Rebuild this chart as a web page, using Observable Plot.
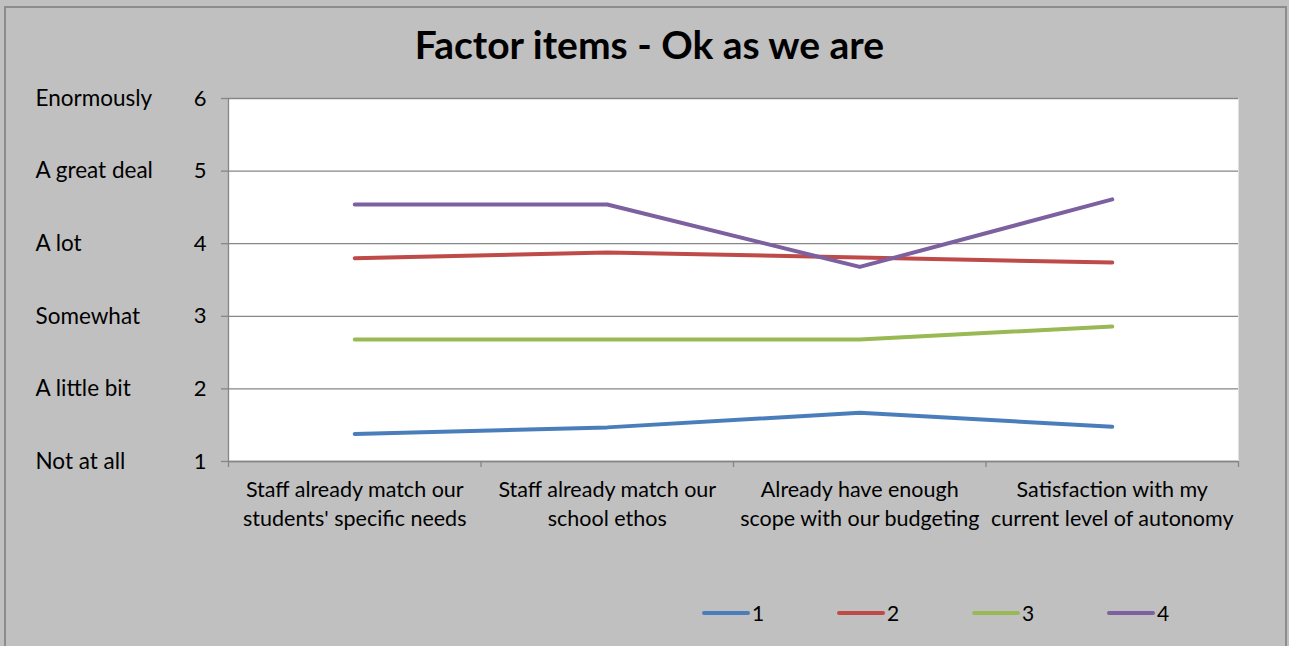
<!DOCTYPE html>
<html>
<head>
<meta charset="utf-8">
<script src="https://cdn.jsdelivr.net/npm/d3@7"></script>
<script src="https://cdn.jsdelivr.net/npm/@observablehq/plot@0.6"></script>
<style>
  html, body { margin: 0; padding: 0; background: #c0c0c0; }
  #wrap { position: relative; width: 1289px; height: 646px; background: #c0c0c0; overflow: hidden; font-family: Lato, "Open Sans", sans-serif; }
  #border { position: absolute; left: 4px; top: 6px; width: 1283px; height: 660px; border: 2px solid #8c8c8c; box-sizing: border-box; }
  #title { position: absolute; left: 0; width: 1299px; top: 21px; text-align: center; font-size: 39px; font-weight: bold; color: #000; }
  #chart { position: absolute; left: 0; top: 0; }
  #legend { position: absolute; top: 600px; left: 0; height: 26px; }
  .li { position: absolute; top: 0; display: flex; align-items: center; font-size: 21px; color: #000; }
  .sw { width: 48px; height: 4px; border-radius: 2px; margin-right: 2px; }
</style>
</head>
<body>
<div id="wrap">
  <div id="border"></div>
  <div id="chart"></div>
  <div id="title">Factor items - Ok as we are</div>
  <div id="legend"></div>
</div>
<script>
const categories = [
  "Staff already match our\nstudents' specific needs",
  "Staff already match our\nschool ethos",
  "Already have enough\nscope with our budgeting",
  "Satisfaction with my\ncurrent level of autonomy"
];
const seriesNames = ["1", "2", "3", "4"];
const series1 = [1.38, 1.47, 1.67, 1.48];
const series2 = [3.80, 3.88, 3.81, 3.74];
const series3 = [2.68, 2.68, 2.68, 2.86];
const series4 = [4.54, 4.54, 3.68, 4.61];
const colors = ["#4a7ebb", "#be4b48", "#98b954", "#7d60a0"];
const yTicks = [1, 2, 3, 4, 5, 6];
const yLabels = ["Not at all", "A little bit", "Somewhat", "A lot", "A great deal", "Enormously"];

const allSeries = [series1, series2, series3, series4];
const data = [];
allSeries.forEach((vals, s) => {
  vals.forEach((v, i) => data.push({series: seriesNames[s], pos: i + 0.5, value: v}));
});
const boundaries = d3.range(categories.length + 1);
const centers = categories.map((c, i) => i + 0.5);

const plot = Plot.plot({
  width: 1289,
  height: 646,
  marginLeft: 228,
  marginRight: 51,
  marginTop: 98,
  marginBottom: 185,
  style: {background: "transparent", fontFamily: "Lato, 'Open Sans', sans-serif", color: "#000", overflow: "visible"},
  x: {domain: [0, categories.length], axis: null, label: null},
  y: {domain: [1, 6], axis: null, label: null},
  color: {domain: seriesNames, range: colors},
  marks: [
    Plot.frame({fill: "white", stroke: null}),
    Plot.gridY(yTicks, {stroke: "#868686", strokeOpacity: 1, strokeWidth: 1.3}),
    Plot.ruleX([0], {stroke: "#868686", strokeWidth: 1.3}),
    Plot.ruleY([1], {stroke: "#868686", strokeWidth: 1.3}),
    Plot.axisY({ticks: yTicks, label: null, tickSize: 7, tickPadding: 15, fontSize: 22, tickFormat: "d", stroke: "#868686", strokeWidth: 1.3, color: "#000"}),
    Plot.axisY({ticks: yTicks, label: null, tickSize: 0, tickPadding: 193, textAnchor: "start", fontSize: 22.5, tickFormat: d => yLabels[d - 1], dy: 0, color: "#000"}),
    Plot.axisX({ticks: boundaries, label: null, tickSize: 6, tickFormat: () => "", stroke: "#868686", strokeWidth: 1.3}),
    Plot.axisX({ticks: centers, label: null, tickSize: 0, tickPadding: 15, fontSize: 21.5, lineHeight: 1.35, tickFormat: d => categories[Math.floor(d)], color: "#000"}),
    Plot.line(data, {x: "pos", y: "value", z: "series", stroke: "series", strokeWidth: 4, strokeLinecap: "round", strokeLinejoin: "round"})
  ]
});
document.getElementById("chart").appendChild(plot);

const legend = document.getElementById("legend");
const legendLeft = [702, 837, 972, 1107];
seriesNames.forEach((name, i) => {
  const item = document.createElement("div");
  item.className = "li";
  item.style.left = legendLeft[i] + "px";
  const sw = document.createElement("div");
  sw.className = "sw";
  sw.style.background = colors[i];
  const lab = document.createElement("span");
  lab.textContent = name;
  item.appendChild(sw);
  item.appendChild(lab);
  legend.appendChild(item);
});
</script>
</body>
</html>
